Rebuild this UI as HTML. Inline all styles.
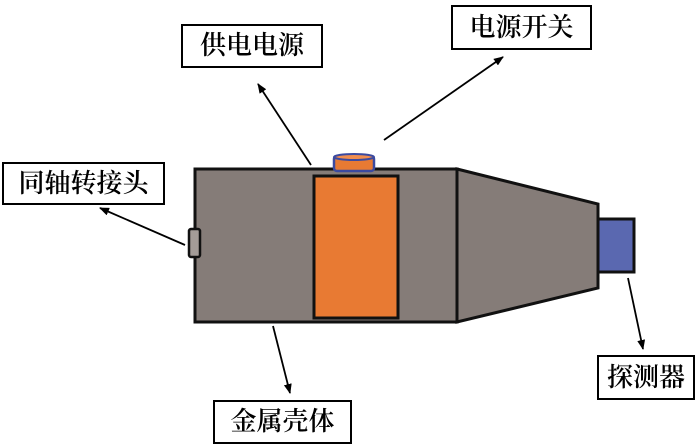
<!DOCTYPE html>
<html><head><meta charset="utf-8"><style>
body{margin:0;background:#fff;width:700px;height:448px;overflow:hidden;position:relative;font-family:"Liberation Serif","Noto Serif CJK SC",serif}
.l{position:absolute;border:2px solid #000;background:#fff;font-size:26px;font-weight:600;line-height:1;display:flex;align-items:center;justify-content:center;box-sizing:border-box}
</style></head><body>
<svg width="700" height="448" style="position:absolute;left:0;top:0">
<defs><marker id="a" markerWidth="10" markerHeight="8" refX="9" refY="4" orient="auto" markerUnits="userSpaceOnUse"><path d="M0,0 L10,4 L0,8 Z" fill="#000"/></marker></defs>
<polygon points="457,169 598,204 598,288 457,322" fill="#857c78" stroke="#111" stroke-width="3"/>
<rect x="598" y="219" width="36" height="53" fill="#5a68b0" stroke="#111" stroke-width="3"/>
<rect x="195" y="169" width="262" height="153" fill="#857c78" stroke="#111" stroke-width="3"/>
<rect x="314" y="176" width="84" height="142" fill="#e87a33" stroke="#111" stroke-width="3"/>
<rect x="189" y="229" width="11" height="28" rx="2" fill="#a49c98" stroke="#111" stroke-width="2.5"/>
<rect x="334" y="156" width="40" height="15" rx="3" fill="#e87a33" stroke="#3b4aa0" stroke-width="2.5"/>
<ellipse cx="354" cy="157" rx="20" ry="3" fill="#f08d4f" stroke="#3b4aa0" stroke-width="2"/>
<g stroke="#000" stroke-width="1.8" marker-end="url(#a)">
<line x1="311" y1="165" x2="258" y2="84"/>
<line x1="384" y1="140" x2="503" y2="57"/>
<line x1="185" y1="245" x2="100" y2="208"/>
<line x1="273" y1="326" x2="290" y2="393"/>
<line x1="628" y1="278" x2="643" y2="349"/>
</g>
</svg>
<div class="l" style="left:181px;top:24px;width:142px;height:44px">供电电源</div>
<div class="l" style="left:451px;top:5px;width:141px;height:45px">电源开关</div>
<div class="l" style="left:2px;top:162px;width:163px;height:43px">同轴转接头</div>
<div class="l" style="left:213px;top:400px;width:139px;height:44px">金属壳体</div>
<div class="l" style="left:597px;top:355px;width:98px;height:45px">探测器</div>
</body></html>
